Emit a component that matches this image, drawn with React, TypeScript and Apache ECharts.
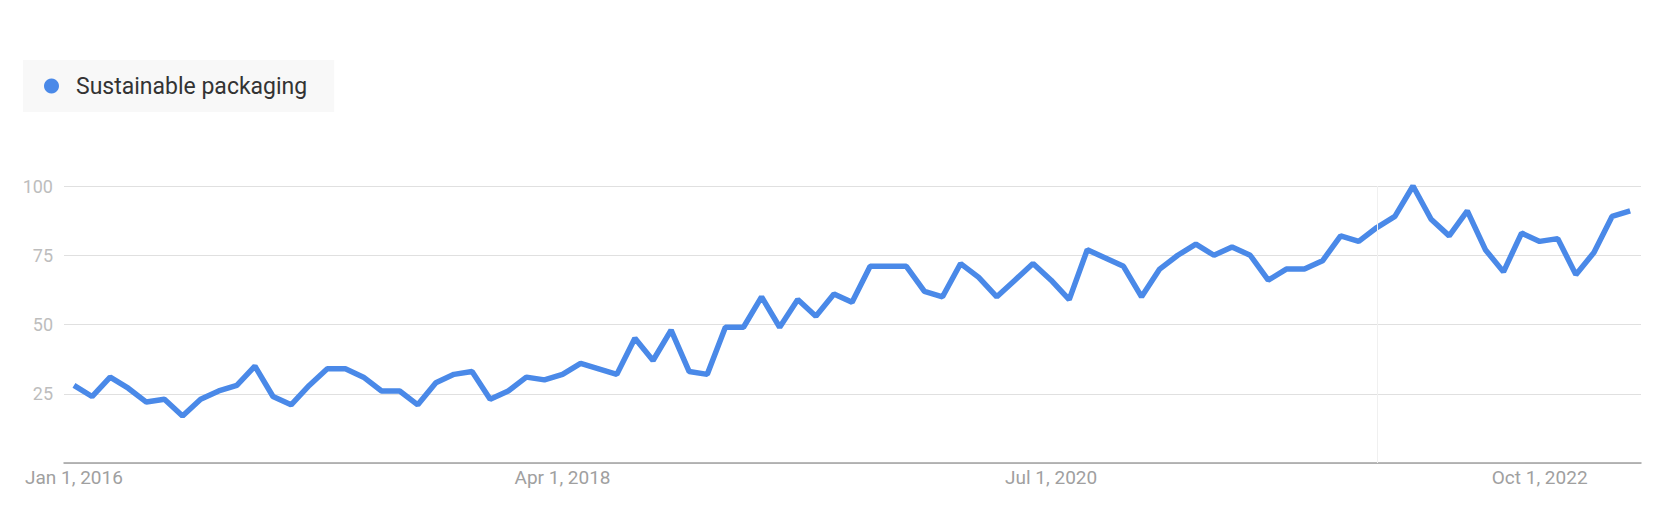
import * as echarts from "echarts";
import { useEffect, useRef } from "react";

// monthly interest, Jan 2016 .. Mar 2023
const interest = [
  28, 24, 31, 27, 22, 23, 17, 23, 26, 28, 35, 24, 21, 28, 34, 34, 31, 26,
  26, 21, 29, 32, 33, 23, 26, 31, 30, 32, 36, 34, 32, 45, 37, 48, 33, 32,
  49, 49, 60, 49, 59, 53, 61, 58, 71, 71, 71, 62, 60, 72, 67, 60, 66,
  72, 66, 59, 77, 74, 71, 60, 70, 75, 79, 75, 78, 75, 66, 70, 70, 73,
  82, 80, 85, 89, 100, 88, 82, 91, 77, 69, 83, 80, 81, 68, 76, 89, 91,
];

const tickIndex = [0, 27, 54, 81];
const tickLabels = ["Jan 1, 2016", "Apr 1, 2018", "Jul 1, 2020", "Oct 1, 2022"];
const noteIndex = 72; // Jan 2022 data-collection note

const blue = "#4a89e8";
const font = "Roboto";

export default function App() {
  const ref = useRef<HTMLDivElement>(null);

  useEffect(() => {
    if (!ref.current) return;

    const chart = echarts.init(ref.current, null, { renderer: "svg" });

    chart.setOption({
      animation: false,
      backgroundColor: "#fff",
      grid: { left: 64, right: 20, top: 186, bottom: 53 },

      legend: {
        left: 23,
        top: 60,
        padding: [14, 27, 14, 21],
        backgroundColor: "#f8f8f8",
        icon: "circle",
        itemWidth: 15,
        itemHeight: 15,
        textStyle: {
          fontFamily: font,
          fontSize: 23,
          lineHeight: 24,
          color: "#333",
          padding: [0, 0, 0, 12],
        },
      },

      xAxis: {
        type: "value",
        min: -0.55,
        max: 86.6,
        splitLine: { show: false },
        axisTick: { show: false },
        axisLine: { lineStyle: { color: "#a0a0a0", width: 1.5 } },
        axisLabel: {
          customValues: tickIndex,
          margin: 5,
          fontFamily: font,
          fontSize: 19,
          color: "#a0a0a0",
          formatter: (v: number) => tickLabels[tickIndex.indexOf(Math.round(v))] ?? "",
        },
      },

      yAxis: {
        type: "value",
        min: 0,
        max: 100,
        interval: 25,
        axisLine: { show: false },
        axisTick: { show: false },
        splitLine: { lineStyle: { color: "#e0e0e0", width: 1 } },
        axisLabel: {
          margin: 11,
          fontFamily: font,
          fontSize: 18,
          color: "#bdbdbd",
          formatter: (v: number) => (v === 0 ? "" : String(v)),
        },
      },

      series: [
        {
          name: "Sustainable packaging",
          type: "line",
          symbol: "none",
          color: blue,
          lineStyle: { width: 5.5, color: blue },
          data: interest.map((v, i) => [i, v]),
          markLine: {
            silent: true,
            symbol: "none",
            label: { show: false },
            lineStyle: { color: "#f0f0f0", width: 1, type: "solid" },
            data: [{ xAxis: noteIndex }],
          },
        },
      ],
    });

    return () => chart.dispose();
  }, []);

  return (
    <div
      ref={ref}
      style={{ position: "absolute", left: 0, top: 0, width: 1661, height: 516 }}
    />
  );
}
